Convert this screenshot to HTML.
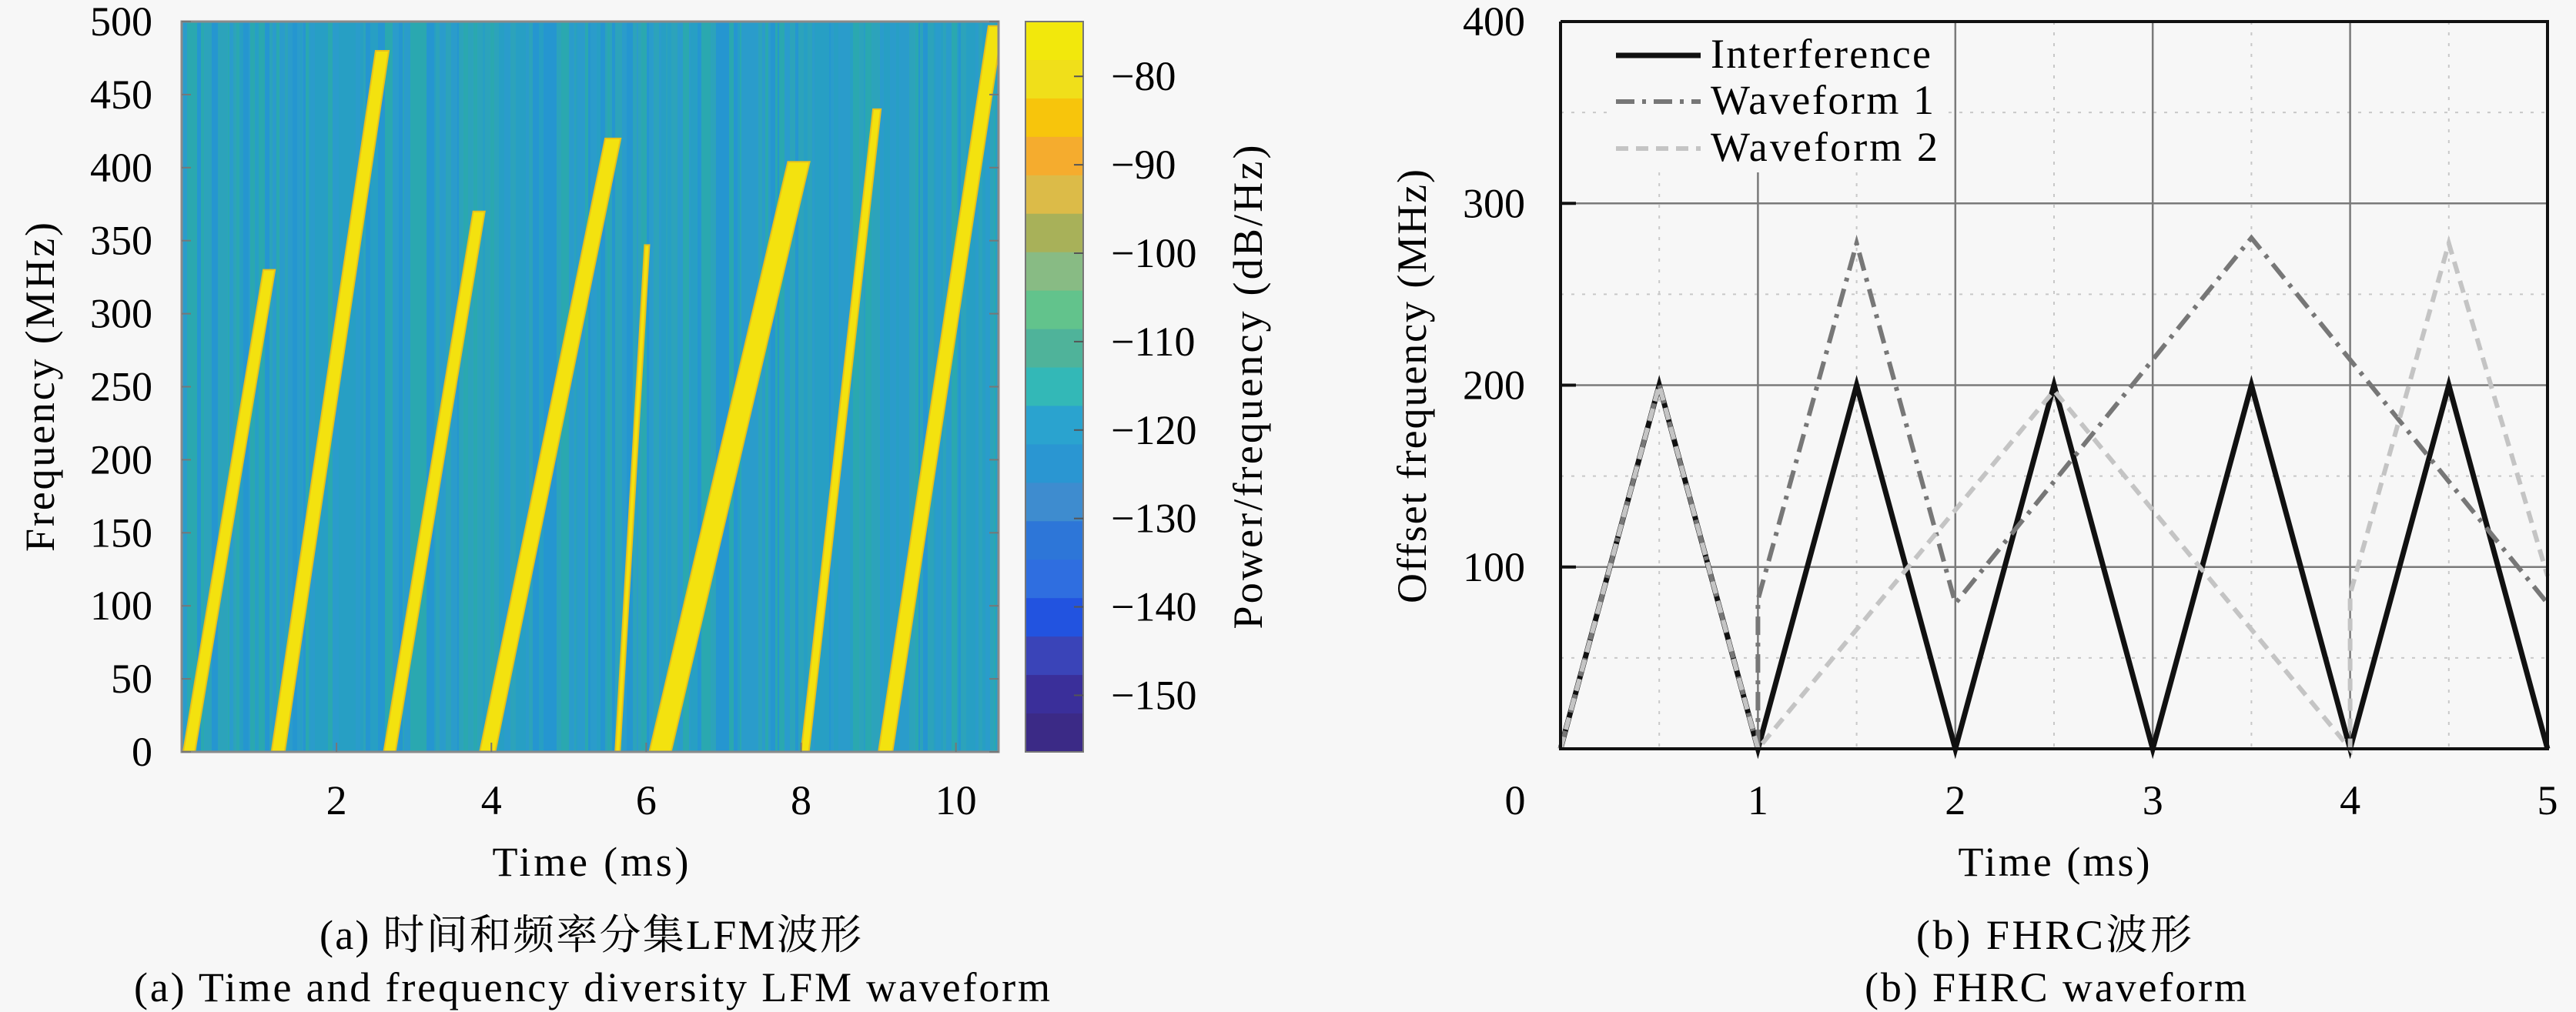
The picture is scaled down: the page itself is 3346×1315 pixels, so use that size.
<!DOCTYPE html>
<html><head><meta charset="utf-8">
<style>
html,body{margin:0;padding:0;background:#f7f7f7;}
svg, svg text{font-family:"Liberation Serif","DejaVu Serif","Noto Serif CJK SC",serif;}
svg{display:block;}
</style></head>
<body>
<svg width="3346" height="1315" viewBox="0 0 3346 1315" xmlns="http://www.w3.org/2000/svg" font-family="Liberation Serif, Noto Serif CJK SC, serif">
<rect width="3346" height="1315" fill="#f7f7f7"/>
<g id="left">
  <clipPath id="lc"><rect x="236" y="28" width="1061" height="949"/></clipPath>
  <g id="bg" clip-path="url(#lc)"></g>
  <g id="chirps" clip-path="url(#lc)"></g>
  <rect x="236" y="28" width="1061" height="949" fill="none" stroke="#8a8a8a" stroke-width="3"/>
  <g id="lticks"></g>
  <g id="cbar"></g>
  <text x="52" y="503" font-size="54" text-anchor="middle" dominant-baseline="central" transform="rotate(-90 52 503)" textLength="428">Frequency (MHz)</text>
  <text x="1621" y="503" font-size="54" text-anchor="middle" dominant-baseline="central" transform="rotate(-90 1621 503)" textLength="629">Power/frequency (dB/Hz)</text>
  <text x="767" y="1120" font-size="54" text-anchor="middle" dominant-baseline="central" textLength="255">Time (ms)</text>
  <text x="767" y="1215" font-size="54" text-anchor="middle" dominant-baseline="central" textLength="704">(a) 时间和频率分集LFM波形</text>
  <text x="769" y="1283" font-size="54" text-anchor="middle" dominant-baseline="central" textLength="1190">(a) Time and frequency diversity LFM waveform</text>
</g>
<g id="right">
  <g id="grid"></g>
  <rect x="2088" y="30" width="440" height="194" fill="#f7f7f7"/>
  <g id="series"></g>
  <path d="M2027 28 V973 H3309 V28 H2027" fill="none" stroke="#111" stroke-width="4"/>
  <g id="rticks"></g>
  <g id="legend">
    <line x1="2099" y1="72" x2="2209" y2="72" stroke="#111" stroke-width="7"/>
    <text x="2222" y="70" font-size="54" dominant-baseline="central" textLength="286">Interference</text>
    <line x1="2099" y1="132" x2="2209" y2="132" stroke="#777" stroke-width="6" stroke-dasharray="24,10,5,10"/>
    <text x="2222" y="130" font-size="54" dominant-baseline="central" textLength="290">Waveform 1</text>
    <line x1="2099" y1="193" x2="2209" y2="193" stroke="#c4c4c4" stroke-width="6" stroke-dasharray="16,10"/>
    <text x="2222" y="191" font-size="54" dominant-baseline="central" textLength="295">Waveform 2</text>
  </g>
  <text x="1834" y="502" font-size="54" text-anchor="middle" dominant-baseline="central" transform="rotate(-90 1834 502)" textLength="564">Offset frequency (MHz)</text>
  <text x="2668" y="1120" font-size="54" text-anchor="middle" dominant-baseline="central" textLength="249">Time (ms)</text>
  <text x="2668" y="1215" font-size="54" text-anchor="middle" dominant-baseline="central" textLength="358">(b) FHRC波形</text>
  <text x="2670" y="1283" font-size="54" text-anchor="middle" dominant-baseline="central" textLength="496">(b) FHRC waveform</text>
</g>
</svg>
<script>
// ---------- Left chart data ----------
const chirpStartMs = [0.02, 1.16, 2.61, 3.85, 5.60, 6.04, 8.00, 9.00];
const chirpEndMs   = [1.13, 2.59, 3.84, 5.57, 6.01, 7.97, 8.98, 10.51];
const chirpEndMHz  = [330, 480, 370, 420, 347, 404, 440, 497];
const chirpWidthMs = [0.15, 0.17, 0.15, 0.2, 0.06, 0.28, 0.1, 0.18];
const freqTicks = [0, 50, 100, 150, 200, 250, 300, 350, 400, 450, 500];
const timeTicks = [2, 4, 6, 8, 10];
const cbarTicks = [-80, -90, -100, -110, -120, -130, -140, -150];
const cbarColors = ['#f2e80c','#f0df1a','#f7c50c','#f5ac2e','#dcbb48','#a8b159','#88bb84','#62c38c','#4fb39a','#33b8b7','#2aa3cf','#2a96d2','#3e8ccf','#2d76d8','#2f6ee0','#2253e0','#3a44b8','#3a2f9a','#3b2a86'];

const NS = 'http://www.w3.org/2000/svg';
function mk(tag, attrs, parent){const e=document.createElementNS(NS,tag);for(const k in attrs)e.setAttribute(k,attrs[k]);parent.appendChild(e);return e;}
const L={x0:236,x1:1297,y0:977,y1:28,tmax:10.55,fmax:500};
const lx=t=>L.x0+(t/L.tmax)*(L.x1-L.x0);
const ly=f=>L.y0-(f/L.fmax)*(L.y0-L.y1);

// background streaks (decorative texture)
const bg=document.getElementById('bg');
mk('rect',{x:236,y:28,width:1061,height:949,fill:'#2699cd'},bg);
let s=7;
for(let x=236;x<1297;){
  s=(s*1103515245+12345)%2147483648;
  const w=2+(s%7);
  const k=(s>>8)%5;
  const c=k===0?'#2aa8b0':(k===1?'#2ca3bb':(k===2?'#2596d0':(k===3?'#279fc4':'#2a9ccb')));
  const r=mk('rect',{x:x,y:28,width:w,height:949,fill:c},bg);
  
  
  x+=w;
}
const ch=document.getElementById('chirps');
chirpStartMs.forEach((t0,i)=>{
  const t1=chirpEndMs[i], w=chirpWidthMs[i], f1=chirpEndMHz[i];
  const d=`M${lx(t0)} ${ly(0)} L${lx(t0+w)} ${ly(0)} L${lx(t1+w*0.5)} ${ly(f1)} L${lx(t1-w*0.5)} ${ly(f1)} Z`;
  const p=mk('path',{d:d,fill:'#f3e20f',stroke:'#e9c01c','stroke-width':2},ch);
  
  
});
const lt=document.getElementById('lticks');
freqTicks.forEach(f=>{
  mk('line',{x1:236,y1:ly(f),x2:248,y2:ly(f),stroke:'#777','stroke-width':2},lt);
  mk('line',{x1:1285,y1:ly(f),x2:1297,y2:ly(f),stroke:'#777','stroke-width':2},lt);
  const t=mk('text',{x:198,y:ly(f),'font-size':54,'text-anchor':'end','dominant-baseline':'central'},lt);
  t.textContent=f;
  
  
});
timeTicks.forEach(v=>{
  mk('line',{x1:lx(v),y1:977,x2:lx(v),y2:965,stroke:'#777','stroke-width':2},lt);
  const t=mk('text',{x:lx(v),y:1040,'font-size':54,'text-anchor':'middle','dominant-baseline':'central'},lt);
  t.textContent=v;
  
  
});
// colorbar
const cb=document.getElementById('cbar');
const C={x:1332,w:75,top:28,bot:977,vTop:-73.8,vBot:-156.4};
const cy=v=>C.top+(C.vTop-v)/(C.vTop-C.vBot)*(C.bot-C.top);
const n=cbarColors.length, h=(C.bot-C.top)/n;
cbarColors.forEach((c,i)=>{
  const r=mk('rect',{x:C.x,y:C.top+i*h,width:C.w,height:h+1,fill:c},cb);
  
  
});
mk('rect',{x:C.x,y:C.top,width:C.w,height:C.bot-C.top,fill:'none',stroke:'#777','stroke-width':2},cb);
cbarTicks.forEach(v=>{
  mk('line',{x1:C.x+C.w-12,y1:cy(v),x2:C.x+C.w,y2:cy(v),stroke:'#555','stroke-width':2},cb);
  const t=mk('text',{x:1443,y:cy(v),'font-size':54,'dominant-baseline':'central'},cb);
  t.textContent='\u2212'+Math.abs(v);
  
  
});

// ---------- Right chart data ----------
const interfT = [0, 0.5, 1, 1.5, 2, 2.5, 3, 3.5, 4, 4.5, 5];
const interfF = [0, 200, 0, 200, 0, 200, 0, 200, 0, 200, 0];
const wf1T = [0, 0.5, 1, 1, 1.5, 2, 3.5, 5];
const wf1F = [0, 200, 0, 82, 278, 80, 281, 80];
const wf2T = [0, 0.5, 1, 2.5, 4, 4, 4.5, 5];
const wf2F = [0, 200, 0, 197, 0, 85, 278, 95];
const yTicksR = [100, 200, 300, 400];
const xTicksR = [0, 1, 2, 3, 4, 5];

const R={x0:2027,x1:3309,y0:973,y1:28,tmax:5,fmax:400};
const rx=t=>R.x0+t/R.tmax*(R.x1-R.x0);
const ry=f=>R.y0-f/R.fmax*(R.y0-R.y1);
const g=document.getElementById('grid');
[50,150,250,350].forEach(f=>mk('line',{x1:R.x0,y1:ry(f),x2:R.x1,y2:ry(f),stroke:'#c8c8c8','stroke-width':2,'stroke-dasharray':'4,10'},g));
[0.5,1.5,2.5,3.5,4.5].forEach(t=>mk('line',{x1:rx(t),y1:R.y1,x2:rx(t),y2:R.y0,stroke:'#c8c8c8','stroke-width':2,'stroke-dasharray':'4,10'},g));
[100,200,300].forEach(f=>mk('line',{x1:R.x0,y1:ry(f),x2:R.x1,y2:ry(f),stroke:'#7a7a7a','stroke-width':2.5},g));
[1,2,3,4].forEach(t=>mk('line',{x1:rx(t),y1:R.y1,x2:rx(t),y2:R.y0,stroke:'#7a7a7a','stroke-width':2.5},g));
const se=document.getElementById('series');
function poly(T,F,attrs,name){
  const pts=T.map((t,i)=>rx(t)+','+ry(F[i])).join(' ');
  const p=mk('polyline',Object.assign({points:pts,fill:'none','stroke-linejoin':'miter'},attrs),se);
  
  
}
poly(interfT,interfF,{stroke:'#111','stroke-width':7},'series-interference');
poly(wf1T,wf1F,{stroke:'#777','stroke-width':6,'stroke-dasharray':'24,10,5,10'},'series-waveform-1');
poly(wf2T,wf2F,{stroke:'#c4c4c4','stroke-width':6,'stroke-dasharray':'16,10'},'series-waveform-2');
const rt=document.getElementById('rticks');
yTicksR.forEach(f=>{
  mk('line',{x1:R.x0,y1:ry(f),x2:R.x0+20,y2:ry(f),stroke:'#111','stroke-width':4},rt);
  const t=mk('text',{x:1981,y:ry(f),'font-size':54,'text-anchor':'end','dominant-baseline':'central'},rt);
  t.textContent=f;
  
  
});
xTicksR.forEach(v=>{
  const x=v===0?1968:rx(v);
  const t=mk('text',{x:x,y:1040,'font-size':54,'text-anchor':'middle','dominant-baseline':'central'},rt);
  t.textContent=v;
  
  
});
</script>
</body></html>
